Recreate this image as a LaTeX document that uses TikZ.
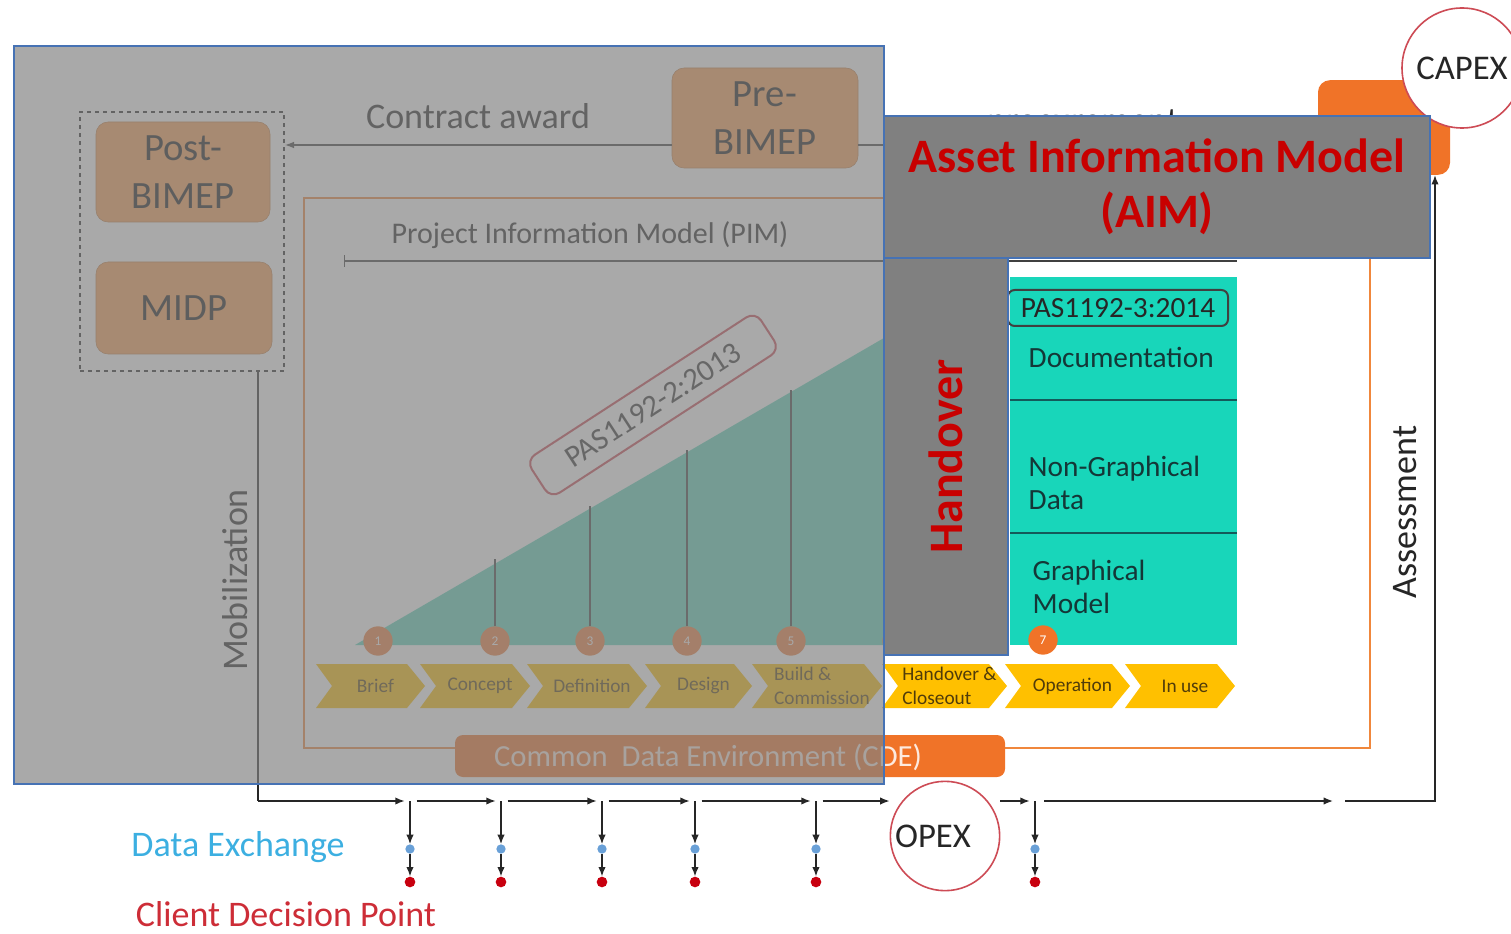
\documentclass[tikz,border=0pt]{standalone}
\usepackage{fontspec}
\setmainfont{Carlito}
\usetikzlibrary{arrows.meta, positioning}
\definecolor{bimeporange}{RGB}{250,160,85}
\definecolor{pimorange}{RGB}{240,135,60}
\definecolor{cdeorange}{RGB}{240,115,40}
\definecolor{stageyellow}{RGB}{255,192,0}
\definecolor{panelteal}{RGB}{24,214,186}
\definecolor{slopeteal}{RGB}{95,215,190}
\definecolor{veilgray}{RGB}{128,128,128}
\definecolor{aimred}{RGB}{200,0,0}
\definecolor{edgeblue}{RGB}{70,114,180}
\definecolor{ringred}{RGB}{205,75,85}
\definecolor{xchblue}{RGB}{60,175,225}
\definecolor{cdpred}{RGB}{205,45,55}
\definecolor{dotblue}{RGB}{105,160,215}
\definecolor{dotred}{RGB}{200,0,15}
\definecolor{stepcirc}{RGB}{240,125,60}
\definecolor{divteal}{RGB}{20,90,90}
\definecolor{stagebrown}{RGB}{80,60,10}
\definecolor{panelink}{RGB}{20,55,55}
\newcommand{\fs}[2]{\fontsize{#1}{#2}\selectfont}

\begin{document}
\begin{tikzpicture}[x=0.75pt,y=0.75pt,yscale=-1,xscale=1,
  bimepbox/.style={rounded corners=9pt, fill=bimeporange, draw=bimeporange!80!black, text=black!90, align=center, inner sep=0pt, font=\fs{29}{36}},
  graytxt/.style={text=black!85, font=\fs{27}{30}},
  stagetxt/.style={text=stagebrown, align=left, font=\fs{14.5}{18}},
  stepdot/.style={circle, fill=stepcirc, inner sep=0pt, minimum size=22pt, text=white!90, font=\fs{10}{12}},
  paneltxt/.style={text=panelink, align=left, anchor=west, font=\fs{22}{25}},
  aimbox/.style={fill=veilgray, draw=edgeblue, line width=1.5pt, text=aimred, align=center, font=\bfseries\fs{36}{41}},
  ringnode/.style={circle, draw=ringred, fill=white, line width=1.2pt, inner sep=0pt, text=black!85, font=\fs{26}{30}},
  conn/.style={line width=1pt, draw=black!75},
  flow/.style={line width=1pt, draw=black!85, -{Latex[length=7pt,width=5.5pt]}},
  xdot/.style={circle, fill=dotblue, inner sep=0pt, minimum size=7pt},
  cdot/.style={circle, fill=dotred, inner sep=0pt, minimum size=8pt}]

\useasboundingbox (0,0) rectangle (1511,934);

%PIM frame
\draw [pimorange, line width=2.2pt] (304,198) rectangle (1370,748);

%BIMEP group
\node [draw=black!85, dashed, line width=1.2pt, minimum width=153pt, minimum height=194pt, inner sep=0pt] (dbox) at (182,241.5) {};
\node [bimepbox, minimum width=130.5pt, minimum height=75pt] (post) at (183,172) {Post-\\BIMEP};
\node [bimepbox, minimum width=132pt, minimum height=69pt] (midp) at (184,308) {MIDP};
\node [bimepbox, minimum width=139.5pt, minimum height=75pt] (pre) at (765,118) {Pre-\\BIMEP};

%CAPEX box
\node [fill=cdeorange, rounded corners=9pt, minimum width=99pt, minimum height=71pt] (capex) at (1384,127.5) {};

% Contract award
\path (pre.west) ++(0,27) coordinate (ca);
\draw [conn, -{Latex[length=7pt,width=5pt]}] (ca) -- (ca -| dbox.east);
\draw [conn] (ca -| pre.east) -- (ca -| capex.west);
\node [graytxt] (award) at (478,116) {Contract award};
\node [graytxt, anchor=base] (procure) at (1083,133) {procurement};

% PIM line
\node [graytxt, font=\fs{22.5}{26}] (pim) at (590,235) {Project Information Model (PIM)};
\coordinate (pimL) at (344,261);
\coordinate (pimR) at (1237,261);
\draw [conn, {Bar[width=9pt]}-] (pimL) -- (pimR);

%Slope and AIM panel
\fill [slopeteal] (355,645) -- (1008,266) -- (1008,645) -- cycle;
\fill [panelteal] (1010,277) rectangle (1237,645);
\draw [line width=1.6pt, divteal] (1010,400) -- (1237,400);
\draw [line width=1.6pt, divteal] (1010,533) -- (1237,533);
\node [draw=black!75, rounded corners=5pt, line width=1.5pt, minimum width=165pt, minimum height=27pt, inner sep=0pt, text=black!85, font=\fs{22}{25}] (pas3) at (1118,308) {PAS1192-3:2014};
\node [paneltxt] (doc) at (1024,357) {Documentation};
\node [paneltxt] (ngd) at (1024,483) {Non-Graphical\\Data};
\node [paneltxt] (gm) at (1028,587) {Graphical\\Model};

%Stage circles
\foreach \n/\x in {1/378,2/495,3/590,4/687,5/791,6/897}
  \node [stepdot] (c\n) at (\x,641) {\n};
\node [stepdot, fill=cdeorange] (c7) at (1043,640) {7};
\foreach \n/\t in {2/559,3/506,4/450,5/390}
  \draw [conn] (c\n.north) -- ++(0,{\t-626});

%Stage chevrons
\foreach \a/\b/\t [count=\i] in {316/425/Brief, 420/530/Concept, 527/647/Definition, 645/752/Design, 752/882/{Build \&\\Commission}, 882/1007/{Handover \&\\Closeout}, 1005/1130/Operation, 1125/1235/In use} {
  \fill [stageyellow] (\a,664) -- (\b-18,664) -- (\b,686) -- (\b-18,708) -- (\a,708) -- (\a+16,686) -- cycle;
  \node [stagetxt] (st\i) at ({(\a+\b)/2+5},686) {\t};
}

%CDE bar
\node [fill=cdeorange, rounded corners=6pt, minimum width=412.5pt, minimum height=31.5pt] (cde) at (730,756) {};
\node [text=white!85!cdeorange, font=\fs{23}{28}] (cdetxt) at (708,757) {Common\ \ Data Environment (CDE)};

% PAS1192-2 label
\node [draw=ringred, rounded corners=8pt, line width=1.5pt, rotate=33, minimum width=205pt, minimum height=34pt, text=black!80, font=\fs{23}{26}] (pas2) at (653,405) {PAS1192-2:2013};

%Mobilization
\node [graytxt, rotate=90] (mobl) at (235,580) {Mobilization};
\coordinate (m0) at (258,801);
\draw [conn, draw=black!85] (dbox.south -| m0) -- (m0);

%Overlay
\fill [veilgray, fill opacity=0.68] (14,46) rectangle (884,784);
\draw [edgeblue, line width=1.5pt] (14,46) rectangle (884,784);

%CAPEX ring and assessment
\node [ringnode, minimum size=90pt] (capexring) at (1462,68) {CAPEX};
\node [graytxt, rotate=90, text=black!85] (assess) at (1405,512) {Assessment};

%AIM and Handover
\node [aimbox, minimum width=409.5pt, minimum height=106.5pt] (aim) at (1157,187) {Asset Information Model\\(AIM)};
\node [aimbox, rotate=90, minimum width=297.75pt, minimum height=93pt] (hand) at (946,456.5) {Handover};

%Data exchanges
\node [ringnode, minimum size=82pt] (opex) at (945,836) {OPEX\hspace*{18pt}};
\foreach \i/\x in {1/410,2/501,3/602,4/695,5/816,6/1035} {
  \coordinate (j\i) at (\x,801);
  \node [xdot] (b\i) at (\x,849) {};
  \node [cdot] (r\i) at (\x,882) {};
  \draw [flow] (j\i) -- (b\i);
  \draw [flow] (b\i) -- (r\i);
}
\draw [flow] (m0) -- ([xshift=-4pt]j1);
\foreach \a/\b in {1/2,2/3,3/4,4/5}
  \draw [flow] ([xshift=5pt]j\a) -- ([xshift=-4pt]j\b);
\draw [flow] ([xshift=5pt]j5) -- (opex.west |- j5);
\draw [flow] (opex.east |- j5) -- ([xshift=-4pt]j6);
\coordinate (a1) at (1333,801);
\coordinate (a2) at (1345,801);
\coordinate (c1) at (1435,801);
\draw [flow] ([xshift=7pt]j6) -- (a1);
\draw [flow] (a2) -- (c1) -- (c1 |- capex.south);

% Text Node
\node [text=xchblue, font=\fs{27}{30}] (xch) at (238,847) {Data Exchange};
\node [text=cdpred, font=\fs{27}{30}] (cdp) at (286,914) {Client Decision Point};

\end{tikzpicture}
\end{document}
